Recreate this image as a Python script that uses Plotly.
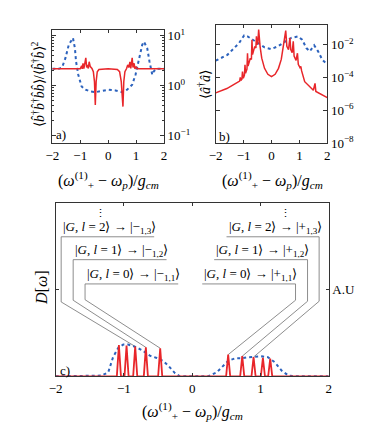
import plotly.graph_objects as go

# ---- panel a) : g2 of the mechanical mode (log scale) ----
a_x_blue = [-2.0, -1.77, -1.65, -1.53, -1.41, -1.26, -1.19, -1.15, -1.07, -0.95, -0.81, -0.63, -0.45,
            -0.21, 0.02, 0.26, 0.50, 0.68, 0.86, 0.98, 1.10, 1.22, 1.28, 1.40, 1.48, 1.58, 1.63, 1.72, 2.0]
a_g2_blue = [2.17, 2.17, 2.31, 3.55, 6.56, 9.0, 5.6, 3.04, 1.65, 0.96, 0.83, 0.76, 0.74,
             0.79, 0.83, 0.80, 0.74, 0.83, 1.04, 1.65, 3.55, 6.56, 7.6, 5.6, 3.04, 1.65, 1.92, 2.17, 2.17]
a_x_red = [-2.0, -1.0, -0.95, -0.93, -0.90, -0.87, -0.80, -0.77, -0.74, -0.71, -0.68, -0.64, -0.58,
           -0.53, -0.49, -0.46, -0.43, -0.39, -0.33, 0.0, 0.33, 0.41, 0.47, 0.53, 0.56, 0.60, 0.66,
           0.70, 0.74, 0.78, 0.81, 0.86, 0.89, 0.93, 0.96, 1.0, 1.05, 2.0]
a_g2_red = [2.17, 2.17, 2.5, 2.17, 2.8, 2.2, 3.6, 2.3, 2.6, 2.2, 3.0, 2.4, 2.2,
            1.9, 1.2, 0.41, 1.2, 1.9, 2.1, 2.17, 2.1, 1.9, 1.2, 0.38, 1.2, 1.9, 2.2,
            2.6, 2.3, 3.0, 2.2, 3.6, 2.3, 2.8, 2.17, 2.4, 2.17, 2.17]

# ---- panel b) : cavity population (log scale) ----
b_x_blue = [-2.0, -1.82, -1.58, -1.34, -1.16, -0.98, -0.86, -0.67, -0.49, -0.25, -0.01, 0.23, 0.47,
            0.71, 0.95, 1.10, 1.25, 1.37, 1.53, 1.67, 1.82, 2.0]
b_n_blue = [1.05e-3, 1.5e-3, 2.4e-3, 6.2e-3, 1.26e-2, 3.7e-2, 3.2e-2, 2.0e-2, 1.26e-2, 6.8e-3, 5.4e-3,
            7.9e-3, 1.45e-2, 2.6e-2, 3.2e-2, 2.0e-2, 6.2e-3, 3.9e-3, 9.1e-3, 3.9e-3, 1.2e-3, 6.3e-4]
b_x_red = [-2.0, -1.6, -1.22, -1.14, -1.12, -1.10, -1.06, -1.04, -1.01, -0.97, -0.95, -0.93, -0.88,
           -0.86, -0.84, -0.81, -0.76, -0.72, -0.70, -0.68, -0.65, -0.60, -0.56, -0.54, -0.52, -0.49,
           -0.46, -0.43, -0.41, -0.35, -0.25, -0.13, 0.0, 0.13, 0.25, 0.35, 0.42, 0.48, 0.51, 0.55,
           0.61, 0.66, 0.69, 0.74, 0.78, 0.81, 0.88, 0.93, 0.96, 1.02, 1.05, 1.08, 1.19, 1.50, 1.56,
           1.59, 2.0]
b_n_red = [1.15e-5, 2.1e-5, 5.0e-5, 6.0e-5, 1.0e-4, 6.6e-5, 7.9e-5, 2.3e-4, 8.9e-5, 1.4e-4, 5.9e-4,
           1.8e-4, 3.2e-4, 3.0e-3, 5.0e-4, 7.4e-4, 1.5e-3, 1.26e-3, 2.0e-2, 2.5e-3, 3.9e-3, 7.9e-3,
           6.3e-3, 3.2e-2, 1.0e-2, 1.26e-2, 8.3e-2, 1.26e-2, 7.9e-3, 1.5e-3, 3.6e-4, 1.55e-4, 1.12e-4,
           1.55e-4, 3.6e-4, 1.26e-3, 6.3e-3, 2.0e-2, 7.2e-2, 7.9e-3, 5.0e-3, 2.6e-2, 5.0e-3, 3.2e-3,
           1.6e-2, 2.0e-3, 1.1e-3, 3.0e-3, 6.3e-4, 4.0e-4, 4.7e-4, 2.5e-4, 5.5e-5, 1.66e-5, 4.3e-5,
           1.4e-5, 5.8e-6]

# ---- panel c) : spectrum D[w] (arbitrary units) ----
c_x_blue = [-2.0, -1.45, -1.33, -1.23, -1.16, -1.08, -1.01, -0.94, -0.84, -0.74, -0.62, -0.52, -0.43,
            -0.35, -0.25, -0.18, -0.1, 0.15, 0.23, 0.36, 0.45, 0.53, 0.63, 0.72, 0.82, 0.92, 1.02,
            1.11, 1.21, 1.31, 1.41, 1.55, 2.0]
c_d_blue = [0, 0, 0.004, 0.023, 0.110, 0.167, 0.183, 0.183, 0.171, 0.152, 0.119, 0.106, 0.090,
            0.061, 0.017, 0.0, 0, 0, 0.0, 0.023, 0.061, 0.090, 0.104, 0.104, 0.110, 0.113, 0.115,
            0.110, 0.081, 0.033, 0.004, 0, 0]
c_x_red = [-2.0, -1.104, -1.074, -1.044, -0.992, -0.962, -0.932, -0.865, -0.835, -0.805, -0.709,
           -0.679, -0.649, -0.499, -0.469, -0.439, 0.497, 0.527, 0.557, 0.703, 0.733, 0.763, 0.869,
           0.899, 0.929, 1.006, 1.036, 1.066, 1.113, 1.143, 1.173, 2.0]
c_d_red = [0, 0, 0.180, 0, 0, 0.177, 0, 0, 0.172, 0, 0, 0.167, 0, 0, 0.162, 0, 0, 0.125, 0, 0,
           0.116, 0, 0, 0.111, 0, 0, 0.106, 0, 0, 0.102, 0, 0]

# transition labels in panel c
left_labels = ["|<i>G</i>, <i>l</i> = 0⟩ → |−<sub>1,1</sub>⟩",
               "|<i>G</i>, <i>l</i> = 1⟩ → |−<sub>1,2</sub>⟩",
               "|<i>G</i>, <i>l</i> = 2⟩ → |−<sub>1,3</sub>⟩"]
right_labels = ["|<i>G</i>, <i>l</i> = 0⟩ → |+<sub>1,1</sub>⟩",
                "|<i>G</i>, <i>l</i> = 1⟩ → |+<sub>1,2</sub>⟩",
                "|<i>G</i>, <i>l</i> = 2⟩ → |+<sub>1,3</sub>⟩"]
label_y = [0.533, 0.673, 0.805]
left_x0 = [-1.57, -1.744, -1.92]
left_x1 = [-0.205, -0.376, -0.557]
left_elbow = [0.442, 0.439, 0.429]
left_peak_x = [-0.469, -0.679, -0.835]
left_peak_y = [0.162, 0.167, 0.172]
right_x0 = [0.147, 0.322, 0.503]
right_x1 = [1.514, 1.690, 1.860]
right_elbow = [0.439, 0.433, 0.433]
right_peak_x = [0.527, 0.733, 0.899]
right_peak_y = [0.125, 0.116, 0.111]

RED = "#e8262a"
BLUE = "#2c62bd"
GREY = "#707070"
FONT = "Liberation Serif"

fig = go.Figure()
fig.add_trace(go.Scatter(x=a_x_blue, y=a_g2_blue, mode="lines", line=dict(color=BLUE, width=2, dash="dot"),
                         xaxis="x", yaxis="y"))
fig.add_trace(go.Scatter(x=a_x_red, y=a_g2_red, mode="lines", line=dict(color=RED, width=1.5),
                         xaxis="x", yaxis="y"))
fig.add_trace(go.Scatter(x=b_x_blue, y=b_n_blue, mode="lines", line=dict(color=BLUE, width=2, dash="dot"),
                         xaxis="x2", yaxis="y2"))
fig.add_trace(go.Scatter(x=b_x_red, y=b_n_red, mode="lines", line=dict(color=RED, width=1.5),
                         xaxis="x2", yaxis="y2"))

# connectors for the transition labels
for i in range(3):
    fig.add_trace(go.Scatter(x=[left_x1[i], left_x0[i], left_x0[i], left_peak_x[i]],
                             y=[label_y[i], label_y[i], left_elbow[i], left_peak_y[i]],
                             mode="lines", line=dict(color=GREY, width=0.8), xaxis="x3", yaxis="y3"))
    fig.add_trace(go.Scatter(x=[right_x0[i], right_x1[i], right_x1[i], right_peak_x[i]],
                             y=[label_y[i], label_y[i], right_elbow[i], right_peak_y[i]],
                             mode="lines", line=dict(color=GREY, width=0.8), xaxis="x3", yaxis="y3"))

fig.add_trace(go.Scatter(x=c_x_blue, y=c_d_blue, mode="lines", line=dict(color=BLUE, width=2, dash="dot"),
                         xaxis="x3", yaxis="y3"))
fig.add_trace(go.Scatter(x=c_x_red, y=c_d_red, mode="lines", line=dict(color=RED, width=1.8),
                         xaxis="x3", yaxis="y3"))

xticks = [-2, -1, 0, 1, 2]
xtick_text = ["−2", "−1", "0", "1", "2"]
frame = dict(showline=True, linecolor="#333", linewidth=1, mirror="ticks", ticks="inside",
             tickcolor="#333", showgrid=False, zeroline=False, tickfont=dict(family=FONT, size=13, color="black"))

xa = dict(frame, range=[-2, 2], tickmode="array", tickvals=xticks, ticktext=xtick_text, ticklen=3)

a_ticks = [0.1, 1, 10]
a_ticktext = ["10<sup>−1</sup>", "10<sup>0</sup>", "10<sup>1</sup>"]
a_minor = [0.2, 0.3, 0.4, 0.5, 0.6, 0.7, 0.8, 0.9, 2, 3, 4, 5, 6, 7, 8, 9]
b_ticks = [1e-8, 1e-6, 1e-4, 1e-2]
b_ticktext = ["10<sup>−8</sup>", "10<sup>−6</sup>", "10<sup>−4</sup>", "10<sup>−2</sup>"]

fig.update_layout(
    width=370, height=433, template="none", showlegend=False,
    paper_bgcolor="white", plot_bgcolor="white",
    margin=dict(l=0, r=0, t=0, b=0),
    xaxis=dict(xa, domain=[44.3 / 370, 156 / 370], anchor="y"),
    yaxis=dict(frame, type="log", range=[-1.15, 1.12], side="right", anchor="x",
               domain=[1 - 135 / 433, 1 - 21.7 / 433], tickmode="array", tickvals=a_ticks,
               ticktext=a_ticktext, ticklen=4,
               minor=dict(tickmode="array", tickvals=a_minor, ticks="inside", ticklen=2, tickcolor="#333")),
    xaxis2=dict(xa, domain=[207.7 / 370, 319.3 / 370], anchor="y2"),
    yaxis2=dict(frame, type="log", range=[-8, -0.8], side="right", anchor="x2",
                domain=[1 - 135 / 433, 1 - 17 / 433], tickmode="array", tickvals=b_ticks,
                ticktext=b_ticktext, ticklen=4),
    xaxis3=dict(xa, domain=[47.7 / 370, 320.7 / 370], anchor="y3"),
    yaxis3=dict(frame, range=[0, 1], side="right", anchor="x3",
                domain=[1 - 368.3 / 433, 1 - 195 / 433], tickmode="array", tickvals=[0.5],
                ticktext=["A.U"], ticklen=3),
)

ann = []
tf = dict(family=FONT, size=13, color="black")
for i in range(3):
    ann.append(dict(x=left_x0[i], y=label_y[i], xref="x3", yref="y3", text=left_labels[i],
                    xanchor="left", yanchor="bottom", showarrow=False, font=tf, yshift=-1))
    ann.append(dict(x=right_x0[i], y=label_y[i], xref="x3", yref="y3", text=right_labels[i],
                    xanchor="left", yanchor="bottom", showarrow=False, font=tf, yshift=-1))
for dx in [-1.35, 1.36]:
    ann.append(dict(x=dx, y=0.94, xref="x3", yref="y3", text="⋮", showarrow=False,
                    xanchor="center", yanchor="middle",
                    font=dict(family=FONT, size=11, color="black")))

title_font = dict(family=FONT, size=16, color="black")
xtitle = "(<i>ω</i><sup>(1)</sup><sub>+</sub> − <i>ω<sub>p</sub></i>)/<i>g<sub>cm</sub></i>"
for cx, cy in [(100, 172), (264, 172), (184, 403)]:
    ann.append(dict(x=cx / 370, y=1 - cy / 433, xref="paper", yref="paper", text=xtitle,
                    showarrow=False, font=title_font, xanchor="center", yanchor="middle"))

ann.append(dict(x=30 / 370, y=1 - 76 / 433, xref="paper", yref="paper", textangle=-90,
                xanchor="center", yanchor="middle",
                text="⟨<i>b̂</i><sup>†</sup><i>b̂</i><sup>†</sup><i>b̂b̂</i>⟩/⟨<i>b̂</i><sup>†</sup><i>b̂</i>⟩<sup>2</sup>",
                showarrow=False, font=dict(family=FONT, size=14, color="black")))
ann.append(dict(x=196 / 370, y=1 - 77 / 433, xref="paper", yref="paper", textangle=-90,
                xanchor="center", yanchor="middle",
                text="⟨<i>â</i><sup>†</sup><i>â</i>⟩", showarrow=False,
                font=dict(family=FONT, size=14, color="black")))
ann.append(dict(x=33 / 370, y=1 - 280 / 433, xref="paper", yref="paper", textangle=-90,
                xanchor="center", yanchor="middle",
                text="<i>D</i>[<i>ω</i>]", showarrow=False, font=title_font))

for lab, px, py in [("a)", 46, 127), ("b)", 209, 128), ("c)", 50, 362)]:
    ann.append(dict(x=px / 370, y=1 - py / 433, xref="paper", yref="paper", text=lab,
                    xanchor="left", yanchor="middle", showarrow=False,
                    font=dict(family=FONT, size=13, color="black")))

fig.update_layout(annotations=ann)
fig.write_html("out.html")
